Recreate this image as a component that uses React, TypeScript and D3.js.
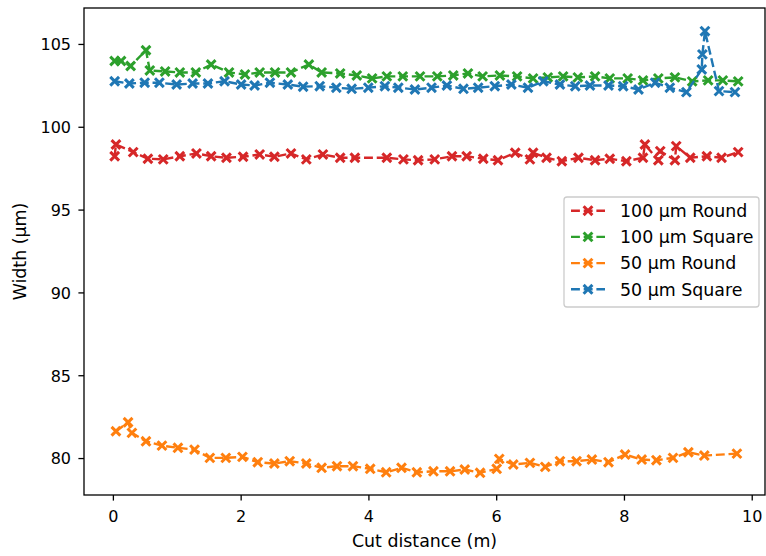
import React from "react";
import * as d3 from "d3";

const xTicks = [0, 2, 4, 6, 8, 10];
const yTicks = [80, 85, 90, 95, 100, 105];

const round100X = [0.02, 0.04, 0.31, 0.54, 0.78, 1.04, 1.30, 1.53, 1.77, 2.03, 2.29, 2.52, 2.78, 3.02, 3.28, 3.55, 3.78, 4.28, 4.54, 4.77, 5.03, 5.30, 5.53, 5.79, 6.02, 6.29, 6.52, 6.57, 6.78, 7.02, 7.28, 7.54, 7.77, 8.03, 8.29, 8.32, 8.53, 8.56, 8.79, 8.81, 9.03, 9.29, 9.52, 9.78];
const round100Y = [98.25, 98.96, 98.50, 98.10, 98.06, 98.25, 98.42, 98.25, 98.16, 98.22, 98.36, 98.22, 98.42, 98.06, 98.36, 98.16, 98.16, 98.16, 98.06, 98.01, 98.06, 98.25, 98.25, 98.10, 98.01, 98.46, 98.06, 98.46, 98.16, 97.95, 98.16, 98.01, 98.10, 97.95, 98.16, 98.96, 98.01, 98.56, 98.01, 98.86, 98.16, 98.25, 98.16, 98.50];

const square100X = [0.02, 0.12, 0.27, 0.51, 0.57, 0.81, 1.04, 1.29, 1.53, 1.81, 2.06, 2.29, 2.53, 2.78, 3.06, 3.26, 3.55, 3.81, 4.05, 4.28, 4.53, 4.80, 5.07, 5.32, 5.55, 5.78, 6.05, 6.32, 6.57, 6.80, 7.04, 7.27, 7.54, 7.77, 8.05, 8.29, 8.53, 8.79, 9.06, 9.31, 9.54, 9.78];
const square100Y = [104.0, 104.0, 103.7, 104.65, 103.43, 103.37, 103.31, 103.31, 103.79, 103.31, 103.19, 103.31, 103.31, 103.31, 103.79, 103.31, 103.25, 103.13, 102.95, 103.07, 103.07, 103.07, 103.07, 103.13, 103.25, 103.07, 103.13, 103.07, 102.95, 103.01, 103.07, 103.01, 103.07, 102.95, 102.95, 102.83, 102.95, 103.01, 102.77, 102.83, 102.83, 102.77];

const round50X = [0.04, 0.23, 0.29, 0.51, 0.76, 1.01, 1.27, 1.51, 1.76, 2.02, 2.26, 2.52, 2.76, 3.02, 3.26, 3.50, 3.75, 4.02, 4.27, 4.51, 4.75, 5.01, 5.27, 5.50, 5.74, 6.00, 6.04, 6.26, 6.52, 6.76, 6.99, 7.25, 7.49, 7.75, 8.01, 8.27, 8.50, 8.76, 9.00, 9.25, 9.76];
const round50Y = [81.65, 82.19, 81.55, 81.04, 80.78, 80.65, 80.54, 80.04, 80.04, 80.10, 79.78, 79.70, 79.84, 79.70, 79.44, 79.54, 79.54, 79.38, 79.17, 79.44, 79.17, 79.23, 79.23, 79.34, 79.14, 79.38, 79.98, 79.64, 79.74, 79.50, 79.84, 79.84, 79.94, 79.78, 80.24, 79.94, 79.90, 80.04, 80.38, 80.18, 80.30];

const square50X = [0.02, 0.25, 0.49, 0.72, 0.99, 1.24, 1.48, 1.74, 2.00, 2.21, 2.45, 2.73, 2.97, 3.23, 3.49, 3.73, 3.99, 4.25, 4.46, 4.72, 4.98, 5.22, 5.48, 5.71, 5.97, 6.23, 6.49, 6.73, 6.99, 7.23, 7.46, 7.75, 7.98, 8.22, 8.48, 8.71, 8.97, 9.21, 9.22, 9.26, 9.48, 9.73];
const square50Y = [102.78, 102.64, 102.69, 102.69, 102.58, 102.64, 102.64, 102.78, 102.58, 102.52, 102.69, 102.58, 102.45, 102.48, 102.39, 102.32, 102.39, 102.48, 102.39, 102.28, 102.39, 102.52, 102.32, 102.39, 102.48, 102.58, 102.39, 102.78, 102.58, 102.48, 102.52, 102.52, 102.48, 102.28, 102.69, 102.39, 102.12, 103.49, 104.40, 105.80, 102.18, 102.12];

const seriesNames = ["100 µm Round", "100 µm Square", "50 µm Round", "50 µm Square"];
const seriesColors = ["#d62728", "#2ca02c", "#ff7f0e", "#1f77b4"];
const seriesXs = [round100X, square100X, round50X, square50X];
const seriesYs = [round100Y, square100Y, round50Y, square50Y];

const W = 766;
const H = 556;
const left = 84;
const right = 765;
const top = 8;
const bottom = 495;
const FONT = "DejaVu Sans, sans-serif";
const FS = 16;
const FL = 17.4;

function Cross({ x, y, color }: { x: number; y: number; color: string }) {
  const s = 4.4;
  return (
    <path
      d={`M${x - s},${y - s}L${x + s},${y + s}M${x - s},${y + s}L${x + s},${y - s}`}
      stroke={color}
      strokeWidth={3}
      strokeLinecap="butt"
      fill="none"
    />
  );
}

export default function App() {
  const x = d3.scaleLinear().domain([-0.46, 10.2]).range([left, right]);
  const y = d3.scaleLinear().domain([77.8, 107.2]).range([bottom, top]);
  const line = d3
    .line<[number, number]>()
    .x((d) => x(d[0]))
    .y((d) => y(d[1]));

  const series = seriesNames.map((name, i) => ({
    name,
    color: seriesColors[i],
    pts: seriesXs[i].map((v, j) => [v, seriesYs[i][j]] as [number, number]),
  }));

  const legX = 564;
  const legY = 197;
  const legW = 195;
  const legH = 110;
  const rowH = 26.2;

  return (
    <div>
      <style>{`body{margin:0;background:#fff}`}</style>
      <svg width={W} height={H} style={{ display: "block", fontFamily: FONT }}>
        <rect x={0} y={0} width={W} height={H} fill="#fff" />
        <defs>
          <clipPath id="plotclip">
            <rect x={left} y={top} width={right - left} height={bottom - top} />
          </clipPath>
        </defs>
        <g clipPath="url(#plotclip)">
          {series.map((s) => (
            <g key={s.name}>
              <path
                d={line(s.pts) || ""}
                fill="none"
                stroke={s.color}
                strokeWidth={2.4}
                strokeDasharray="8.9,3.8"
              />
              {s.pts.map((p, j) => (
                <Cross key={j} x={x(p[0])} y={y(p[1])} color={s.color} />
              ))}
            </g>
          ))}
        </g>
        <rect
          x={left}
          y={top}
          width={right - left}
          height={bottom - top}
          fill="none"
          stroke="#000"
          strokeWidth={1.3}
        />
        {xTicks.map((t) => (
          <g key={"x" + t}>
            <line x1={x(t)} x2={x(t)} y1={bottom} y2={bottom + 5.6} stroke="#000" strokeWidth={1.3} />
            <text x={x(t)} y={522} textAnchor="middle" fontSize={FS} fill="#000">
              {t}
            </text>
          </g>
        ))}
        {yTicks.map((t) => (
          <g key={"y" + t}>
            <line x1={left - 5.6} x2={left} y1={y(t)} y2={y(t)} stroke="#000" strokeWidth={1.3} />
            <text x={71} y={y(t) + 5.8} textAnchor="end" fontSize={FS} fill="#000">
              {t}
            </text>
          </g>
        ))}
        <text x={(left + right) / 2} y={547} textAnchor="middle" fontSize={FL} fill="#000">
          Cut distance (m)
        </text>
        <text
          transform={`translate(26,${(top + bottom) / 2}) rotate(-90)`}
          textAnchor="middle"
          fontSize={FL}
          fill="#000"
        >
          Width (µm)
        </text>
        <rect
          x={legX}
          y={legY}
          width={legW}
          height={legH}
          rx={3}
          fill="#fff"
          fillOpacity={0.8}
          stroke="#cccccc"
          strokeWidth={1.3}
        />
        {series.map((s, i) => {
          const cy = legY + 13.7 + i * rowH;
          return (
            <g key={"leg" + i}>
              <line
                x1={571}
                x2={605}
                y1={cy}
                y2={cy}
                stroke={s.color}
                strokeWidth={2.4}
                strokeDasharray="8.9,3.8"
              />
              <Cross x={588} y={cy} color={s.color} />
              <text x={620} y={cy + 6.2} fontSize={FL} fill="#000">
                {s.name}
              </text>
            </g>
          );
        })}
      </svg>
    </div>
  );
}
